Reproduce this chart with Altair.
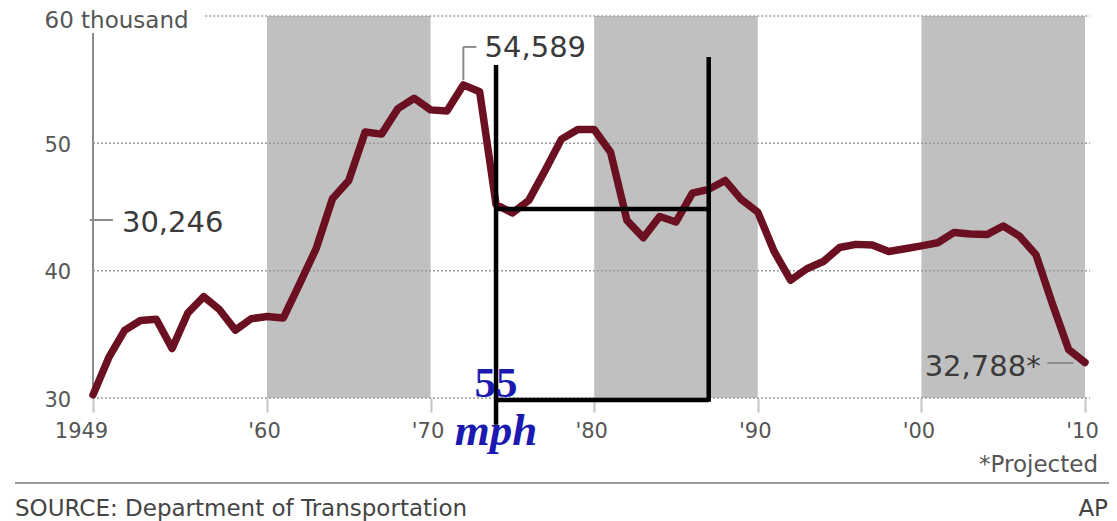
import altair as alt
import pandas as pd

# ---- data (thousands of traffic deaths) ----
years = list(range(1949, 2011))
deaths = [30.246, 33.186, 35.309, 36.088, 36.190, 33.890, 36.688, 37.965, 36.932, 35.331,
          36.223, 36.399, 36.285, 38.980, 41.723, 45.645, 47.089, 50.894, 50.724, 52.725,
          53.543, 52.627, 52.542, 54.589, 54.052, 45.196, 44.525, 45.523, 47.878, 50.331,
          51.093, 51.091, 49.301, 43.945, 42.589, 44.257, 43.825, 46.087, 46.390, 47.087,
          45.582, 44.599, 41.508, 39.250, 40.150, 40.716, 41.817, 42.065, 42.013, 41.501,
          41.717, 41.945, 42.196, 43.005, 42.884, 42.836, 43.510, 42.708, 41.259, 37.423,
          33.808, 32.788]

band_start = [1960, 1980, 2000]
band_end = [1970, 1990, 2010]

grid_values = [30, 40, 50, 60]
grid_from = [1949, 1949, 1949, 1956.1]
grid_to = [2010.3, 2010.3, 2010.3, 2010.3]

x_ticks = [1949, 1960, 1970, 1980, 1990, 2000, 2010]
y_ticks = [30, 40, 50, 60]

# value callouts
callout_text = ["30,246", "54,589", "32,788*"]
callout_x = [1950.83, 1973.3, 2000.2]
callout_y = [43.74, 57.45, 32.43]

# gray leader lines (x, x2, y, y2)
lead_x = [1949, 1948.8, 1972, 1972, 2007.7]
lead_x2 = [1949, 1950.26, 1972, 1972.8, 2009.3]
lead_y = [30.16, 43.98, 54.97, 57.57, 32.75]
lead_y2 = [58.67, 43.98, 57.57, 57.57, 32.75]

# hand-drawn 55 mph annotation (x, x2, y, y2)
mph_x = [1974, 1987, 1974, 1974]
mph_x2 = [1974, 1987, 1987, 1987]
mph_y = [27.9, 29.7, 44.84, 29.84]
mph_y2 = [56.15, 56.78, 44.84, 29.84]
speed_label = ["55"]
speed_x = [1974]
speed_y = [30.08]
unit_label = ["mph"]
unit_x = [1974]
unit_y = [26.3]

footer_left = ["SOURCE: Department of Transportation"]
footer_right = ["AP"]
note = ["*Projected"]

# ---- tables ----
df = pd.DataFrame({"year": years, "deaths": deaths})
bands = pd.DataFrame({"s": band_start, "e": band_end})
grid = pd.DataFrame({"v": grid_values, "a": grid_from, "b": grid_to})
callouts = pd.DataFrame({"t": callout_text, "x": callout_x, "y": callout_y})
leads = pd.DataFrame({"x": lead_x, "x2": lead_x2, "y": lead_y, "y2": lead_y2})
mph = pd.DataFrame({"x": mph_x, "x2": mph_x2, "y": mph_y, "y2": mph_y2})
speed = pd.DataFrame({"t": speed_label, "x": speed_x, "y": speed_y})
unit = pd.DataFrame({"t": unit_label, "x": unit_x, "y": unit_y})

xs = alt.Scale(domain=[1949, 1960, 2010], range=[0, 174, 992])
ys = alt.Scale(domain=[30, 60], nice=False, zero=False)

FONT = "DejaVu Sans"

x_axis = alt.Axis(values=x_ticks, title=None, grid=False, domain=False,
                  ticks=True, tickSize=14, tickColor="#c4c4c4", tickWidth=2,
                  labelExpr="datum.value == 1949 ? '1949' : \"'\" + substring(toString(datum.value), 2, 4)",
                  labelFlush=False,
                  labelOffset={"condition": {"test": "datum.value == 1949", "value": -12}, "value": -3},
                  labelFont=FONT, labelFontSize=21, labelColor="#555555", labelPadding=8)
y_axis = alt.Axis(values=y_ticks, title=None, grid=False, domain=False, ticks=False, tickSize=0,
                  labelExpr="datum.value == 60 ? '60 thousand' : datum.label",
                  labelAlign="left", labelBaseline="middle", labelPadding=49,
                  labelOffset={"condition": {"test": "datum.value == 60", "value": 4}, "value": 2},
                  labelFont=FONT,
                  labelFontSize={"condition": {"test": "datum.value == 60", "value": 23}, "value": 21},
                  labelColor="#555555")


def X(field):
    return alt.X(field, scale=xs, axis=x_axis)


def Y(field):
    return alt.Y(field, scale=ys, axis=y_axis)


band_layer = alt.Chart(bands).mark_rect(color="#c0c0c0").encode(
    x=X("s:Q"), x2="e:Q",
    y=alt.value(0), y2=alt.value(382))

grid_layer = alt.Chart(grid).mark_rule(color="#9a9a9a", strokeWidth=1.5, strokeDash=[2, 2]).encode(
    x=X("a:Q"), x2="b:Q", y=Y("v:Q"))

lead_layer = alt.Chart(leads).mark_rule(color="#8c8c8c", strokeWidth=2).encode(
    x=X("x:Q"), x2="x2:Q", y=Y("y:Q"), y2="y2:Q")

line_layer = alt.Chart(df).mark_line(color="#6b1020", strokeWidth=7.5,
                                      strokeJoin="round", strokeCap="round").encode(
    x=X("year:Q"), y=Y("deaths:Q"))

mph_layer = alt.Chart(mph).mark_rule(color="#000000", strokeWidth=4.5).encode(
    x=X("x:Q"), x2="x2:Q", y=Y("y:Q"), y2="y2:Q")

callout_layer = alt.Chart(callouts).mark_text(font=FONT, fontSize=29, color="#3a3a3a",
                                               align="left", baseline="middle").encode(
    x=X("x:Q"), y=Y("y:Q"), text="t:N")

speed_text = alt.Chart(speed).mark_text(font="Liberation Serif", fontSize=43, fontWeight="bold",
                                         color="#1a1ab0", align="center", baseline="alphabetic").encode(
    x=X("x:Q"), y=Y("y:Q"), text="t:N")

unit_text = alt.Chart(unit).mark_text(font="Liberation Serif", fontSize=45, fontWeight="bold",
                                       fontStyle="italic", color="#1a1ab0", align="center",
                                       baseline="alphabetic").encode(
    x=X("x:Q"), y=Y("y:Q"), text="t:N")

sep = alt.Chart(pd.DataFrame({"k": [0]})).mark_rule(color="#9a9a9a", strokeWidth=2).encode(
    x=alt.value(-78), x2=alt.value(1016), y=alt.value(467))

src = alt.Chart(pd.DataFrame({"t": footer_left})).mark_text(
    font=FONT, fontSize=23, color="#444444", align="left", baseline="alphabetic").encode(
    x=alt.value(-78), y=alt.value(500), text="t:N")

ap = alt.Chart(pd.DataFrame({"t": footer_right})).mark_text(
    font=FONT, fontSize=23, color="#444444", align="right", baseline="alphabetic").encode(
    x=alt.value(1015), y=alt.value(500), text="t:N")

proj = alt.Chart(pd.DataFrame({"t": note})).mark_text(
    font=FONT, fontSize=23, color="#555555", align="right", baseline="alphabetic").encode(
    x=alt.value(1005), y=alt.value(456), text="t:N")

chart = alt.layer(band_layer, grid_layer, lead_layer, line_layer, mph_layer,
                  callout_layer, speed_text, unit_text, sep, src, ap, proj).properties(
    width=992, height=382,
    autosize=alt.AutoSizeParams(type="none"),
    padding={"left": 85, "top": 8, "right": 24, "bottom": 125},
    background="white"
).configure_view(stroke=None)

chart.save("out.html", embed_options={"renderer": "svg", "actions": False})
